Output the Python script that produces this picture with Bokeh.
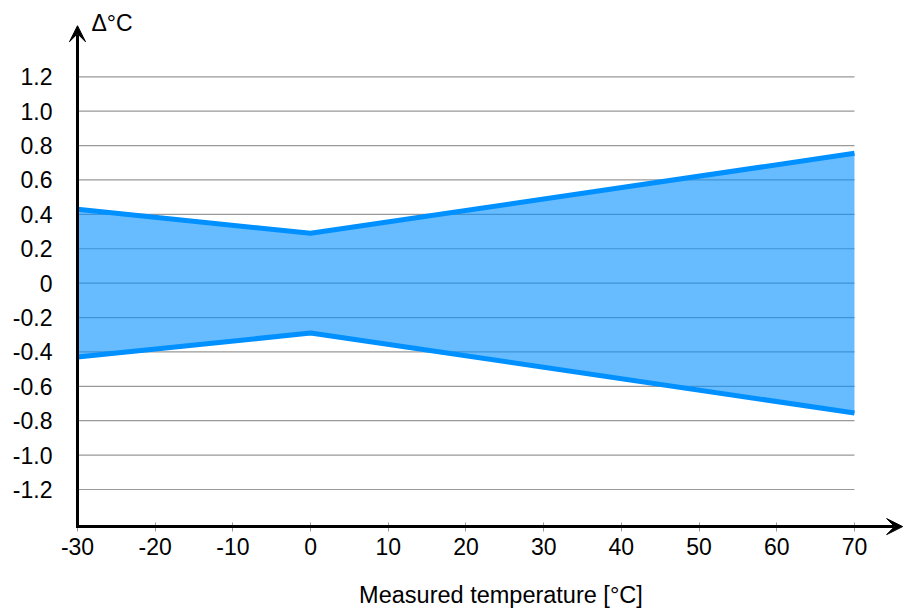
from bokeh.plotting import figure
from bokeh.models import Range1d, FixedTicker, Arrow, VeeHead, Label
from bokeh.embed import file_html
from bokeh.resources import INLINE

# ---- data ----
temperature = [-30, 0, 70]
upper_limit = [0.43, 0.29, 0.755]
lower_limit = [-0.43, -0.29, -0.755]

x_ticks = [-30, -20, -10, 0, 10, 20, 30, 40, 50, 60, 70]
x_tick_labels = ["-30", "-20", "-10", "0", "10", "20", "30", "40", "50", "60", "70"]
y_ticks = [-1.2, -1.0, -0.8, -0.6, -0.4, -0.2, 0, 0.2, 0.4, 0.6, 0.8, 1.0, 1.2]
y_tick_labels = ["-1.2", "-1.0", "-0.8", "-0.6", "-0.4", "-0.2", "0",
                 "0.2", "0.4", "0.6", "0.8", "1.0", "1.2"]
x_title = "Measured temperature [°C]"
y_title = "Δ°C"

# ---- style ----
FONT = "Liberation Sans"
BLUE = "#0090FF"
# visible frame covers the whole canvas; axes sit at fixed locations inside
VIEW_X = (-39.91, 76.31)
VIEW_Y = (-1.892, 1.6437)
AXIS_Y = -1.4157         # where the x axis is drawn
ARROW_X_END = 76.2       # tip of the x-axis arrow
ARROW_Y_END = 1.497      # tip of the y-axis arrow

p = figure(width=903, height=608,
           x_range=Range1d(*VIEW_X), y_range=Range1d(*VIEW_Y),
           output_backend="svg", toolbar_location=None,
           min_border=0, min_border_left=0, min_border_right=0,
           min_border_top=0, min_border_bottom=0)
p.outline_line_color = None
p.background_fill_color = "white"
p.border_fill_color = "white"
p.xgrid.visible = False
p.ygrid.visible = False

# horizontal grid lines from the y ticks, spanning the measured range
p.segment(x0=[temperature[0]] * len(y_ticks), x1=[temperature[-1]] * len(y_ticks),
          y0=y_ticks, y1=y_ticks, line_color="#999999", line_width=1.2)

# band
p.varea(x=temperature, y1=lower_limit, y2=upper_limit,
        fill_color=BLUE, fill_alpha=0.6)
p.line(temperature, upper_limit, line_color=BLUE, line_width=5)
p.line(temperature, lower_limit, line_color=BLUE, line_width=5)

# x axis
xa = p.xaxis[0]
xa.fixed_location = AXIS_Y
xa.ticker = FixedTicker(ticks=x_ticks)
xa.major_label_overrides = dict(zip(x_ticks, x_tick_labels))
xa.axis_line_color = None
xa.major_tick_in = 4
xa.major_tick_out = 5
xa.major_tick_line_color = "#999999"
xa.major_tick_line_width = 1
xa.minor_tick_line_color = None
xa.major_label_standoff = 6
xa.major_label_text_font = FONT
xa.major_label_text_font_size = "23px"
xa.major_label_text_color = "black"

# y axis
ya = p.yaxis[0]
ya.fixed_location = x_ticks[0]
ya.ticker = FixedTicker(ticks=y_ticks)
ya.major_label_overrides = dict(zip(y_ticks, y_tick_labels))
ya.axis_line_color = None
ya.major_tick_line_color = None
ya.major_tick_in = 0
ya.major_tick_out = 0
ya.minor_tick_line_color = None
ya.minor_tick_in = 0
ya.minor_tick_out = 0
ya.major_label_standoff = 25
ya.major_label_text_font = FONT
ya.major_label_text_font_size = "23px"
ya.major_label_text_color = "black"

# axis arrows
p.add_layout(Arrow(end=VeeHead(size=16, fill_color="black", line_color="black", line_width=1),
                   x_start=x_ticks[0], y_start=AXIS_Y, x_end=ARROW_X_END, y_end=AXIS_Y,
                   line_color="black", line_width=3, line_cap="square"))
p.add_layout(Arrow(end=VeeHead(size=16, fill_color="black", line_color="black", line_width=1),
                   x_start=x_ticks[0], y_start=AXIS_Y, x_end=x_ticks[0], y_end=ARROW_Y_END,
                   line_color="black", line_width=3, line_cap="square"))

# axis titles
p.add_layout(Label(x=-28.2, y=1.51, text=y_title, text_font=FONT,
                   text_font_size="23px", text_baseline="middle",
                   text_align="left", text_color="black"))
p.add_layout(Label(x=24.5, y=-1.8135, text=x_title, text_font=FONT,
                   text_font_size="23.5px", text_baseline="middle",
                   text_align="center", text_color="black"))

open("out.html", "w").write(file_html(p, INLINE))
